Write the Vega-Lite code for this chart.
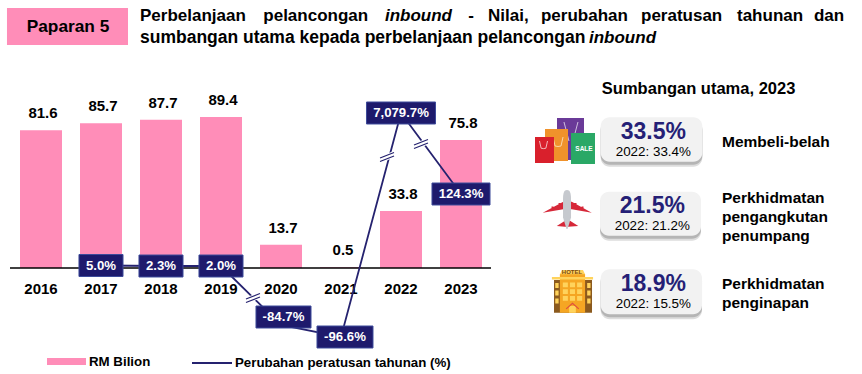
{
"$schema":"https://vega.github.io/schema/vega-lite/v6.json",
"autosize":"none","width":862,"height":374,"padding":0,"background":"white",
"config":{"view":{"stroke":null},"axis":{"disable":true},"text":{"font":"Liberation Sans","baseline":"middle","align":"left","color":"#000000"},"legend":{"padding":0}},
"data":{"values":[{"anotasi":1}]},
"datasets":{
"belanja":[{"tahun":2016,"nilai":81.6},{"tahun":2017,"nilai":85.7},{"tahun":2018,"nilai":87.7},{"tahun":2019,"nilai":89.4},{"tahun":2020,"nilai":13.7},{"tahun":2021,"nilai":0.5},{"tahun":2022,"nilai":33.8},{"tahun":2023,"nilai":75.8}],
"perubahan":[{"tahun":2017,"perubahan":5.0,"posisi":1.48,"label":"5.0%"},{"tahun":2018,"perubahan":2.3,"posisi":1.18,"label":"2.3%"},{"tahun":2019,"perubahan":2.0,"posisi":1.18,"label":"2.0%"},{"tahun":2020,"perubahan":-84.7,"posisi":-33.75,"label":"-84.7%"},{"tahun":2021,"perubahan":-96.6,"posisi":-40.85,"label":"-96.6%"},{"tahun":2022,"perubahan":7079.7,"posisi":91.77,"label":"7,079.7%"},{"tahun":2023,"perubahan":124.3,"posisi":43.81,"label":"124.3%"}],
"putus":[{"tahun":2019.533,"posisi":-17.76},{"tahun":2021.767,"posisi":65.72},{"tahun":2022.333,"posisi":73.42}]
},
"layer":[
{"data":{"name":"belanja"},"mark":{"type":"bar","size":42,"orient":"vertical"},"encoding":{
 "x":{"field":"tahun","type":"quantitative","scale":{"domain":[2015.3167,2029.6833],"nice":false,"zero":false,"padding":0}},
 "y":{"field":"nilai","type":"quantitative","stack":null,"scale":{"domain":[-62.759,158.674],"nice":false,"zero":false,"padding":0}},
 "fill":{"datum":"RM Bilion","type":"nominal","scale":{"range":["#FF8DB8"]},"legend":{"title":null,"orient":"none","legendX":47,"legendY":342,"symbolType":"M-1,-0.184H1V0.184H-1Z","symbolSize":1521,"symbolStrokeWidth":0,"labelFont":"Liberation Sans","labelFontWeight":"bold","labelFontSize":13.3,"labelColor":"#000000","labelOffset":3,"labelLimit":300}}}},
{"mark":{"type":"rule","stroke":"#000000","strokeWidth":1.6},"encoding":{"x":{"datum":2015.483},"x2":{"datum":2023.5},"y":{"datum":0}}},
{"data":{"name":"belanja"},"mark":{"type":"text","align":"center","fontSize":15,"fontWeight":"bold","dx":2,"dy":-17},"encoding":{"x":{"field":"tahun","type":"quantitative"},"y":{"field":"nilai","type":"quantitative","stack":null},"text":{"field":"nilai","type":"quantitative","format":".1f"}}},
{"data":{"name":"belanja"},"mark":{"type":"text","align":"center","fontSize":15,"fontWeight":"bold"},"encoding":{"x":{"field":"tahun","type":"quantitative"},"y":{"datum":-12.43},"text":{"field":"tahun","type":"quantitative","format":"d"}}},
{"data":{"name":"perubahan"},"mark":{"type":"line","strokeWidth":1.8},"encoding":{"x":{"field":"tahun","type":"quantitative"},"y":{"field":"posisi","type":"quantitative"},
 "stroke":{"datum":"Perubahan peratusan tahunan (%)","type":"nominal","scale":{"range":["#25226F"]},"legend":{"title":null,"orient":"none","legendX":191,"legendY":342,"symbolType":"stroke","symbolSize":1600,"symbolStrokeWidth":2,"labelFont":"Liberation Sans","labelFontWeight":"bold","labelFontSize":13.3,"labelColor":"#000000","labelOffset":2,"labelLimit":300}}}},
{"data":{"name":"putus"},"mark":{"type":"point","filled":true,"fill":"white","stroke":"white","strokeWidth":3,"opacity":1,"size":196,"shape":"M-1,0.15L1,-0.65L1,-0.15L-1,0.65Z"},"encoding":{"x":{"field":"tahun","type":"quantitative"},"y":{"field":"posisi","type":"quantitative"}}},
{"data":{"name":"putus"},"mark":{"type":"point","filled":false,"stroke":"#25226F","strokeWidth":1.2,"opacity":1,"size":196,"shape":"M-1,0.15L1,-0.65M-1,0.65L1,-0.15"},"encoding":{"x":{"field":"tahun","type":"quantitative"},"y":{"field":"posisi","type":"quantitative"}}},
{"data":{"name":"perubahan"},"mark":{"type":"point","filled":true,"fill":"#1E1A6C","stroke":"#3D4A9A","strokeWidth":1,"opacity":1,"size":4900,
 "shape":{"expr":"datum.tahun<2020?'M-0.629,-0.314H0.629V0.314H-0.629Z':datum.tahun==2020?'M-0.786,-0.314H0.786V0.314H-0.786Z':datum.tahun==2021?'M-0.8,-0.314H0.8V0.314H-0.8Z':datum.tahun==2022?'M-0.986,-0.314H0.986V0.314H-0.986Z':'M-0.829,-0.314H0.829V0.314H-0.829Z'"},
 "xOffset":{"expr":"datum.tahun==2020?2.5:datum.tahun==2021?4:0"},"yOffset":{"expr":"datum.tahun==2020?-8:0"}},
 "encoding":{"x":{"field":"tahun","type":"quantitative"},"y":{"field":"posisi","type":"quantitative"}}},
{"data":{"name":"perubahan"},"mark":{"type":"text","align":"center","fontSize":13.2,"fontWeight":"bold","color":"#FFFFFF",
 "dx":{"expr":"datum.tahun==2020?2.5:datum.tahun==2021?4:0"},"dy":{"expr":"datum.tahun==2020?-8:0"}},
 "encoding":{"x":{"field":"tahun","type":"quantitative"},"y":{"field":"posisi","type":"quantitative"},"text":{"field":"label"}}},

{"mark":{"type":"rect","fill":"#FF8DB8"},"encoding":{"x":{"datum":2015.433},"x2":{"datum":2017.45},"y":{"datum":153.94},"y2":{"datum":132.03}}},
{"mark":{"type":"text","text":"Paparan 5","align":"center","fontSize":17.3,"fontWeight":"bold"},"encoding":{"x":{"datum":2016.45},"y":{"datum":142.69}}},
{"mark":{"type":"text","text":"Perbelanjaan","fontSize":17,"fontWeight":"bold"},"encoding":{"x":{"datum":2017.65},"y":{"datum":148.91}}},
{"mark":{"type":"text","text":"pelancongan","fontSize":17,"fontWeight":"bold"},"encoding":{"x":{"datum":2019.705},"y":{"datum":148.91}}},
{"mark":{"type":"text","text":"inbound","fontSize":17,"fontWeight":"bold","fontStyle":"italic"},"encoding":{"x":{"datum":2021.733},"y":{"datum":148.91}}},
{"mark":{"type":"text","text":"-","fontSize":17,"fontWeight":"bold"},"encoding":{"x":{"datum":2023.122},"y":{"datum":148.91}}},
{"mark":{"type":"text","text":"Nilai,","fontSize":17,"fontWeight":"bold"},"encoding":{"x":{"datum":2023.45},"y":{"datum":148.91}}},
{"mark":{"type":"text","text":"perubahan","fontSize":17,"fontWeight":"bold"},"encoding":{"x":{"datum":2024.333},"y":{"datum":148.91}}},
{"mark":{"type":"text","text":"peratusan","fontSize":17,"fontWeight":"bold"},"encoding":{"x":{"datum":2026.0},"y":{"datum":148.91}}},
{"mark":{"type":"text","text":"tahunan","fontSize":17,"fontWeight":"bold"},"encoding":{"x":{"datum":2027.6},"y":{"datum":148.91}}},
{"mark":{"type":"text","text":"dan","fontSize":17,"fontWeight":"bold"},"encoding":{"x":{"datum":2028.883},"y":{"datum":148.91}}},
{"mark":{"type":"text","text":"sumbangan utama kepada perbelanjaan pelancongan","fontSize":17.5,"fontWeight":"bold"},"encoding":{"x":{"datum":2017.65},"y":{"datum":136.47}}},
{"mark":{"type":"text","text":"inbound","fontSize":17,"fontWeight":"bold","fontStyle":"italic"},"encoding":{"x":{"datum":2025.133},"y":{"datum":136.47}}},

{"mark":{"type":"text","text":"Sumbangan utama, 2023","align":"center","fontSize":16.5,"fontWeight":"bold"},"encoding":{"x":{"datum":2026.96},"y":{"datum":105.98}}},

{"encoding":{"x":{"datum":2025.328},"x2":{"datum":2027.022},"y":{"datum":89.22},"y2":{"datum":62.94}},"layer":[
 {"mark":{"type":"rect","fill":"#DDDDDD","cornerRadius":9,"yOffset":5,"y2Offset":5}},
 {"mark":{"type":"rect","fill":"#B5B5B5","cornerRadius":9,"yOffset":3,"y2Offset":3}},
 {"mark":{"type":"rect","fill":"#F2F2F2","cornerRadius":9}}]},
{"encoding":{"x":{"datum":2025.317},"x2":{"datum":2027.0},"y":{"datum":45.17},"y2":{"datum":19.12}},"layer":[
 {"mark":{"type":"rect","fill":"#DDDDDD","cornerRadius":9,"yOffset":5,"y2Offset":5}},
 {"mark":{"type":"rect","fill":"#B5B5B5","cornerRadius":9,"yOffset":3,"y2Offset":3}},
 {"mark":{"type":"rect","fill":"#F2F2F2","cornerRadius":9}}]},
{"encoding":{"x":{"datum":2025.328},"x2":{"datum":2027.017},"y":{"datum":-0.77},"y2":{"datum":-27.41}},"layer":[
 {"mark":{"type":"rect","fill":"#DDDDDD","cornerRadius":9,"yOffset":5,"y2Offset":5}},
 {"mark":{"type":"rect","fill":"#B5B5B5","cornerRadius":9,"yOffset":3,"y2Offset":3}},
 {"mark":{"type":"rect","fill":"#F2F2F2","cornerRadius":9}}]},

{"mark":{"type":"text","text":"33.5%","align":"center","fontSize":23,"fontWeight":"bold","color":"#251F76"},"encoding":{"x":{"datum":2026.205},"y":{"datum":80.7}}},
{"mark":{"type":"text","text":"21.5%","align":"center","fontSize":23,"fontWeight":"bold","color":"#251F76"},"encoding":{"x":{"datum":2026.188},"y":{"datum":36.71}}},
{"mark":{"type":"text","text":"18.9%","align":"center","fontSize":23,"fontWeight":"bold","color":"#251F76"},"encoding":{"x":{"datum":2026.205},"y":{"datum":-9.47}}},
{"mark":{"type":"text","text":"2022: 33.4%","align":"center","fontSize":13.4},"encoding":{"x":{"datum":2026.205},"y":{"datum":68.86}}},
{"mark":{"type":"text","text":"2022: 21.2%","align":"center","fontSize":13.4},"encoding":{"x":{"datum":2026.188},"y":{"datum":24.87}}},
{"mark":{"type":"text","text":"2022: 15.5%","align":"center","fontSize":13.4},"encoding":{"x":{"datum":2026.205},"y":{"datum":-21.49}}},
{"mark":{"type":"text","text":"Membeli-belah","fontSize":15.5,"fontWeight":"bold"},"encoding":{"x":{"datum":2027.35},"y":{"datum":74.78}}},
{"mark":{"type":"text","text":["Perkhidmatan","pengangkutan","penumpang"],"fontSize":15.5,"fontWeight":"bold","lineHeight":19},"encoding":{"x":{"datum":2027.35},"y":{"datum":41.62}}},
{"mark":{"type":"text","text":["Perkhidmatan","penginapan"],"fontSize":15.5,"fontWeight":"bold","lineHeight":19},"encoding":{"x":{"datum":2027.35},"y":{"datum":-9.47}}},

{"mark":{"type":"rect","fill":"#6A3A98"},"encoding":{"x":{"datum":2024.6},"x2":{"datum":2025.05},"y":{"datum":88.81},"y2":{"datum":63.94}}},
{"mark":{"type":"point","filled":false,"stroke":"#E8E0F0","strokeWidth":0.8,"opacity":1,"size":400,"shape":"M-0.7,-1L-0.2,0.9M0.7,-1L0.2,0.9"},"encoding":{"x":{"datum":2024.833},"y":{"datum":80.52}}},
{"mark":{"type":"rect","fill":"#F0922B"},"encoding":{"x":{"datum":2024.4},"x2":{"datum":2024.783},"y":{"datum":82.3},"y2":{"datum":63.35}}},
{"mark":{"type":"point","filled":false,"stroke":"#FCE8C8","strokeWidth":0.8,"opacity":1,"size":100,"shape":"M-1,-1L-0.6,0.8Q0,1 0.6,0.8L1,-1"},"encoding":{"x":{"datum":2024.617},"y":{"datum":74.6}}},
{"mark":{"type":"rect","fill":"#D9202C"},"encoding":{"x":{"datum":2024.233},"x2":{"datum":2024.55},"y":{"datum":77.56},"y2":{"datum":62.17}}},
{"mark":{"type":"point","filled":false,"stroke":"#F8DCDC","strokeWidth":0.8,"opacity":1,"size":64,"shape":"M-1,-1L-0.6,0.8Q0,1 0.6,0.8L1,-1"},"encoding":{"x":{"datum":2024.375},"y":{"datum":72.82}}},
{"mark":{"type":"rect","fill":"#2AA866"},"encoding":{"x":{"datum":2024.833},"x2":{"datum":2025.233},"y":{"datum":79.93},"y2":{"datum":61.58}}},
{"mark":{"type":"text","text":"SALE","align":"center","fontSize":6.5,"fontWeight":"bold","color":"#FFFFFF"},"encoding":{"x":{"datum":2025.05},"y":{"datum":70.46}}},

{"mark":{"type":"point","filled":true,"fill":"#D62839","strokeWidth":0,"opacity":1,"size":2500,"shape":"M-0.97,0.11L-0.15,-0.33L0.19,-0.33L0.99,0.11L0.19,-0.03L-0.15,-0.03ZM-0.41,0.64L-0.08,0.43L0.12,0.43L0.45,0.64L0.05,0.67L-0.08,0.67ZM-0.62,-0.14H-0.54V-0.04H-0.62ZM-0.34,-0.28H-0.26V-0.14H-0.34ZM0.3,-0.28H0.38V-0.14H0.3ZM0.58,-0.14H0.66V-0.04H0.58Z"},"encoding":{"x":{"datum":2024.767},"y":{"datum":34.34}}},
{"mark":{"type":"point","filled":true,"fill":"#C6C9CE","strokeWidth":0,"opacity":1,"size":2500,"shape":"M0,-0.8C0.15,-0.8 0.16,-0.6 0.16,-0.4L0.16,0.3L0.02,0.76L-0.02,0.76L-0.16,0.3L-0.16,-0.4C-0.16,-0.6 -0.15,-0.8 0,-0.8Z"},"encoding":{"x":{"datum":2024.767},"y":{"datum":34.34}}},

{"mark":{"type":"point","filled":true,"fill":"#8B5A1E","strokeWidth":0,"opacity":1,"size":1764,"shape":"M-0.88,-0.52H0.93V1.03H-0.88Z"},"encoding":{"x":{"datum":2024.858},"y":{"datum":-13.62}}},
{"mark":{"type":"point","filled":true,"fill":"#F5A623","strokeWidth":0,"opacity":1,"size":1764,"shape":"M-0.6,-0.81H0.6V1.03H-0.6Z"},"encoding":{"x":{"datum":2024.858},"y":{"datum":-13.62}}},
{"mark":{"type":"point","filled":true,"fill":"#FFD35C","strokeWidth":0,"opacity":1,"size":1764,"shape":"M-0.98,-0.67H0.98V-0.55H-0.98ZM-0.5,-1H0.5L0.6,-0.8H-0.6ZM-0.46,-0.4H-0.22V-0.18H-0.46ZM-0.12,-0.4H0.12V-0.18H-0.12ZM0.22,-0.4H0.46V-0.18H0.22ZM-0.46,-0.08H-0.22V0.14H-0.46ZM-0.12,-0.08H0.12V0.14H-0.12ZM0.22,-0.08H0.46V0.14H0.22ZM-0.46,0.24H-0.22V0.46H-0.46ZM-0.12,0.24H0.12V0.46H-0.12ZM0.22,0.24H0.46V0.46H0.22ZM-0.82,-0.38H-0.66V-0.14H-0.82ZM0.7,-0.38H0.86V-0.14H0.7ZM-0.82,-0.02H-0.66V0.22H-0.82ZM0.7,-0.02H0.86V0.22H0.7ZM-0.82,0.36H-0.66V0.6H-0.82ZM0.7,0.36H0.86V0.6H0.7ZM-0.16,0.72H0.16V1.03H-0.16Z"},"encoding":{"x":{"datum":2024.858},"y":{"datum":-13.62}}},
{"mark":{"type":"point","filled":false,"stroke":"#E0503E","strokeWidth":1.2,"opacity":1,"size":1764,"shape":"M-0.3,0.85L0,0.58L0.3,0.85"},"encoding":{"x":{"datum":2024.858},"y":{"datum":-13.62}}},
{"mark":{"type":"text","text":"HOTEL","align":"center","fontSize":6,"fontWeight":"bold","color":"#7A4A10"},"encoding":{"x":{"datum":2024.85},"y":{"datum":-2.37}}}
]
}
